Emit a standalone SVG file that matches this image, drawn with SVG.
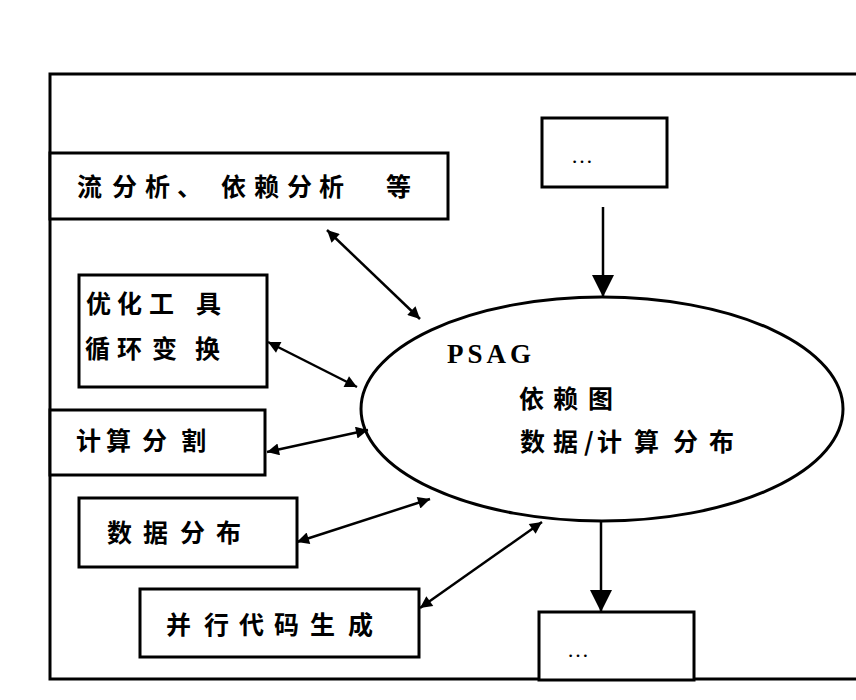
<svg xmlns="http://www.w3.org/2000/svg" width="856" height="700" viewBox="0 0 856 700">
<style>
.box{fill:#fff;stroke:#000;stroke-width:3}
.cjk{font-family:"Noto Sans CJK SC","Noto Sans",sans-serif;font-size:25px;font-weight:700;fill:#000}
.lat{font-family:"Liberation Serif",serif;fill:#000}
.conn{stroke:#000;stroke-width:2.5;fill:none}
</style>
<defs>
<marker id="big" viewBox="0 0 10 10" refX="10" refY="5" markerUnits="userSpaceOnUse" markerWidth="22" markerHeight="27" orient="auto"><path d="M0,0 L10,5 L0,10 Z" fill="#000"/></marker>
<marker id="sm" viewBox="0 0 10 10" refX="10" refY="5" markerUnits="userSpaceOnUse" markerWidth="18" markerHeight="12" orient="auto-start-reverse"><path d="M0,0 L10,5 L0,10 Z" fill="#000"/></marker>
</defs>
<rect width="856" height="700" fill="#fff"/>
<path id="frame" d="M856,74 H50 V679 H856" fill="none" stroke="#000" stroke-width="3"/>
<g id="n-flow"><rect class="box" x="50" y="153" width="398" height="66"/><text class="cjk" x="77 112 145 177 221 254 287 319 354 386" y="196">流分析、依赖分析 等</text></g>
<g id="n-opt"><rect class="box" x="79" y="275" width="188" height="112"/><text class="cjk" x="86 117 149 196" y="313">优化工具</text><text class="cjk" x="85 117 152 195" y="358">循环变换</text></g>
<g id="n-comp"><rect class="box" x="50" y="410" width="215" height="65"/><text class="cjk" x="76 106 142 181" y="450">计算分割</text></g>
<g id="n-data"><rect class="box" x="79" y="498" width="218" height="69"/><text class="cjk" x="107 143 180 216" y="542">数据分布</text></g>
<g id="n-code"><rect class="box" x="140" y="589" width="279" height="68"/><text class="cjk" x="166 204 239 274 310 348" y="634">并行代码生成</text></g>
<g id="n-top"><rect class="box" x="542" y="118" width="125" height="69"/><text class="lat" x="571" y="163" font-size="22">…</text></g>
<g id="n-bot"><rect class="box" x="539" y="612" width="155" height="68"/><text class="lat" x="567" y="657" font-size="22">…</text></g>
<g id="n-psag"><ellipse cx="602" cy="409" rx="241" ry="112" fill="#fff" stroke="#000" stroke-width="3"/>
<text class="lat" x="447" y="363" font-size="27" font-weight="700" letter-spacing="4">PSAG</text>
<text class="cjk" x="519 553 588" y="408">依赖图</text>
<text class="cjk" x="520 553 584 597 634 673 709" y="451">数据/计算分布</text></g>
<g id="connectors">
<line class="conn" x1="603" y1="207" x2="603" y2="297" marker-end="url(#big)"/>
<line class="conn" x1="601" y1="521" x2="601" y2="612" marker-end="url(#big)"/>
<line class="conn" x1="327" y1="230" x2="420" y2="319" marker-start="url(#sm)" marker-end="url(#sm)"/>
<line class="conn" x1="268" y1="342" x2="357" y2="387" marker-start="url(#sm)" marker-end="url(#sm)"/>
<line class="conn" x1="267" y1="452" x2="368" y2="430" marker-start="url(#sm)" marker-end="url(#sm)"/>
<line class="conn" x1="297" y1="542" x2="430" y2="499" marker-start="url(#sm)" marker-end="url(#sm)"/>
<line class="conn" x1="420" y1="608" x2="542" y2="522" marker-start="url(#sm)" marker-end="url(#sm)"/>
</g>
</svg>
